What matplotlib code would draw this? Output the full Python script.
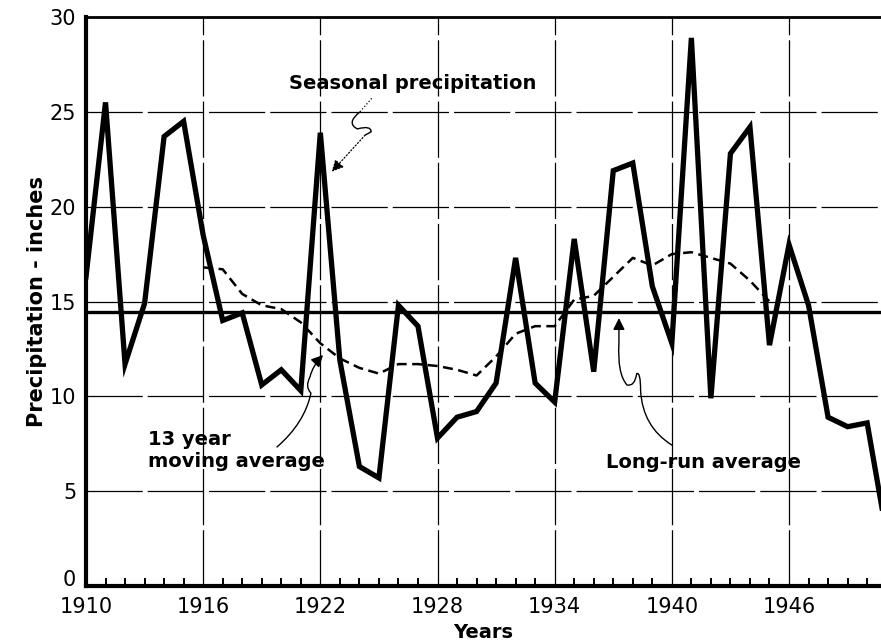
import matplotlib
matplotlib.use("Agg")
import matplotlib.pyplot as plt
import matplotlib.transforms as mtransforms
from matplotlib.path import Path
from matplotlib.patches import FancyArrowPatch, PathPatch

# Seasonal precipitation, inches, 1910-1951
years = list(range(1910, 1952))
seasonal = [16.3, 25.5, 11.7, 14.9, 23.7, 24.5, 18.5, 14.0, 14.4, 10.6,
            11.4, 10.3, 23.9, 11.9, 6.3, 5.7, 14.8, 13.7, 7.8, 8.9,
            9.2, 10.7, 17.3, 10.7, 9.7, 18.3, 11.3, 21.9, 22.3, 15.8,
            12.8, 28.9, 9.9, 22.8, 24.2, 12.7, 18.0, 14.8, 8.9, 8.4,
            8.6, 2.7]

# 13 year moving average, centred, 1916-1945
ma_years = list(range(1916, 1946))
moving_avg = [16.8, 16.7, 15.4, 14.8, 14.6, 13.9, 12.8, 12.0, 11.5, 11.2,
              11.7, 11.7, 11.6, 11.4, 11.1, 12.1, 13.3, 13.7, 13.7, 15.1,
              15.3, 16.3, 17.3, 16.9, 17.5, 17.6, 17.3, 17.0, 16.1, 15.0]

long_run_avg = 14.45

x_ticks = [1910, 1916, 1922, 1928, 1934, 1940, 1946]
y_ticks = [0, 5, 10, 15, 20, 25, 30]

FONT = "DejaVu Sans"

fig = plt.figure(figsize=(8.81, 6.42), dpi=100)
ax = fig.add_axes([0.0976, 0.0872, 0.9024, 0.8863])
ax.set_xlim(1910, 1950.71)
ax.set_ylim(0, 30)

# grid
for yv in y_ticks[1:-1]:
    ax.axhline(yv, color="black", lw=0.9, ls=(0, (45, 4)), zorder=1)
for xv in x_ticks[1:]:
    ax.axvline(xv, color="black", lw=0.9, ls=(0, (45, 4)), zorder=1)

# series
ax.plot(years, seasonal, color="black", lw=3.8, solid_joinstyle="miter",
        zorder=4)
ax.plot(ma_years, moving_avg, color="black", lw=1.8, dashes=(4.0, 2.2),
        zorder=3)
ax.axhline(long_run_avg, color="black", lw=2.4, zorder=3)

# spines / ticks
for side in ("left", "bottom"):
    ax.spines[side].set_linewidth(3.0)
ax.spines["top"].set_linewidth(2.0)
ax.spines["right"].set_visible(False)

ax.set_xticks(x_ticks)
ax.set_yticks(y_ticks)
ax.set_xticks(range(1910, 1951), minor=True)
ax.tick_params(axis="x", which="major", length=0, pad=8)
ax.tick_params(axis="x", which="minor", direction="in", length=6, width=1.4)
ax.tick_params(axis="y", which="major", length=0, pad=7)
for lab in ax.get_xticklabels() + ax.get_yticklabels():
    lab.set_fontfamily(FONT)
    lab.set_fontsize(15)

# lift the zero label clear of the year labels
fig.canvas.draw()
zero_lab = ax.get_yticklabels()[0]
zero_lab.set_transform(zero_lab.get_transform() +
                       mtransforms.ScaledTranslation(0, 8 / 100, fig.dpi_scale_trans))

ax.set_xlabel("Years", fontsize=14, fontweight="bold", family=FONT, labelpad=4)
ax.set_ylabel("Precipitation - inches", fontsize=15, fontweight="bold",
              family=FONT, labelpad=2)

# labels
txt = dict(fontsize=14, fontweight="bold", family=FONT, color="black")
ax.text(1920.39, 26.2, "Seasonal precipitation", ha="left", va="baseline", **txt)
ax.text(1913.17, 7.43, "13 year", ha="left", va="baseline", **txt)
ax.text(1913.17, 6.27, "moving average", ha="left", va="baseline", **txt)
ax.text(1936.63, 6.22, "Long-run average", ha="left", va="baseline", **txt)

# pointer to the seasonal series
p1 = Path([(1924.63, 25.71), (1924.03, 25.00)], [Path.MOVETO, Path.LINETO])
ax.add_patch(PathPatch(p1, fill=False, lw=0.9, ls=":", color="black", zorder=5))
p2 = Path([(1924.03, 25.00), (1923.3, 24.4), (1923.9, 24.1), (1924.6, 24.3),
           (1924.6, 23.95), (1924.29, 23.77)],
          [Path.MOVETO, Path.CURVE3, Path.CURVE3, Path.CURVE3, Path.CURVE3,
           Path.LINETO])
ax.add_patch(PathPatch(p2, fill=False, lw=1.0, color="black", zorder=5))
p3 = Path([(1924.29, 23.77), (1922.58, 21.84)], [Path.MOVETO, Path.LINETO])
ax.add_patch(FancyArrowPatch(path=p3, arrowstyle="-|>,head_length=7,head_width=3.5",
                             lw=0.9, ls=":", color="black", zorder=5))

# pointer to the moving average
p4 = Path([(1919.78, 7.33), (1921.2, 8.6), (1921.52, 10.17),
           (1921.2, 10.5), (1921.47, 11.02),
           (1921.6, 11.6), (1922.14, 12.18)],
          [Path.MOVETO, Path.CURVE3, Path.CURVE3, Path.CURVE3, Path.CURVE3,
           Path.CURVE3, Path.CURVE3])
ax.add_patch(FancyArrowPatch(path=p4, arrowstyle="-|>,head_length=7,head_width=3.5",
                             lw=1.0, color="black", zorder=5))

# pointer to the long-run average
p5 = Path([(1940.0, 7.43), (1938.5, 8.4), (1938.4, 10.3),
           (1938.4, 11.3), (1938.2, 11.2),
           (1938.1, 10.5), (1937.7, 10.6),
           (1937.2, 11.2), (1937.29, 12.8),
           (1937.29, 14.13)],
          [Path.MOVETO, Path.CURVE3, Path.CURVE3, Path.CURVE3, Path.CURVE3,
           Path.CURVE3, Path.CURVE3, Path.CURVE3, Path.CURVE3, Path.LINETO])
ax.add_patch(FancyArrowPatch(path=p5, arrowstyle="-|>,head_length=7,head_width=3.5",
                             lw=1.0, color="black", zorder=5))

fig.savefig("out.png", dpi=100)
